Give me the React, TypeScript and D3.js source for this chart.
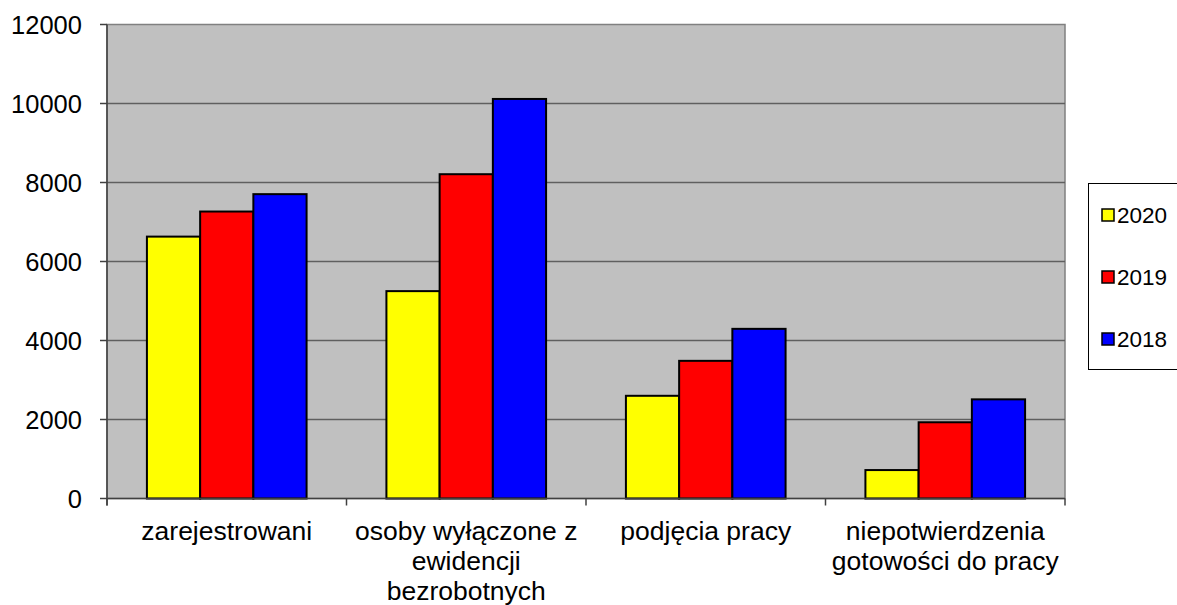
import React from "react";
import * as d3 from "d3";

const categories = ["zarejestrowani", "osoby wyłączone z ewidencji bezrobotnych", "podjęcia pracy", "niepotwierdzenia gotowości do pracy"];
const categoryLines = [["zarejestrowani"], ["osoby wyłączone z", "ewidencji", "bezrobotnych"], ["podjęcia pracy"], ["niepotwierdzenia", "gotowości do pracy"]];
const seriesNames = ["2020", "2019", "2018"];
const seriesColors = ["#FFFF00", "#FF0000", "#0000FF"];
const values2020 = [6630, 5250, 2600, 720];
const values2019 = [7265, 8210, 3485, 1930];
const values2018 = [7705, 10115, 4295, 2510];
const yTicks = [0, 2000, 4000, 6000, 8000, 10000, 12000];

const seriesValues = [values2020, values2019, values2018];

export default function App() {
  const W = 1177, H = 605;
  const left = 107, right = 1065, top = 24.5, bottom = 498.5;
  const y = d3.scaleLinear().domain([0, 12000]).range([bottom, top]);
  const x0 = d3.scaleBand<string>().domain(categories).range([left, right]).paddingInner(0).paddingOuter(0);
  const x1 = d3.scaleBand<string>().domain(seriesNames).range([0, x0.bandwidth()]).paddingInner(0).paddingOuter(0.75);
  const font = "Arial, 'Liberation Sans', sans-serif";
  const catTicks = [...categories.map((c) => x0(c) as number), right];

  return (
    <svg width={W} height={H} style={{ position: "absolute", left: 0, top: 0, display: "block", background: "#fff" }} fontFamily={font}>
      <rect x={left} y={top} width={right - left} height={bottom - top} fill="#C0C0C0" stroke="#808080" strokeWidth={1.5} />
      {yTicks.filter((t) => t > 0 && t < 12000).map((t) => (
        <line key={"g" + t} x1={left} x2={right} y1={y(t)} y2={y(t)} stroke="#5F5F5F" strokeWidth={1.5} />
      ))}
      {yTicks.map((t) => (
        <g key={"t" + t}>
          <line x1={left - 7} x2={left} y1={y(t)} y2={y(t)} stroke="#404040" strokeWidth={1.5} />
          <text x={82} y={y(t)} textAnchor="end" dominantBaseline="central" fontSize={25.5} fill="#000">{t}</text>
        </g>
      ))}
      {categories.map((c, ci) => (
        <g key={c}>
          {seriesNames.map((s, si) => {
            const v = seriesValues[si][ci];
            const bx = (x0(c) as number) + (x1(s) as number);
            return (
              <rect key={s} x={bx} y={y(v)} width={x1.bandwidth()} height={y(0) - y(v)} fill={seriesColors[si]} stroke="#000" strokeWidth={2} />
            );
          })}
          {categoryLines[ci].map((ln, li) => (
            <text key={li} x={(x0(c) as number) + x0.bandwidth() / 2} y={531 + li * 30} textAnchor="middle" dominantBaseline="central" fontSize={26.5} fill="#000">{ln}</text>
          ))}
        </g>
      ))}
      <line x1={left} x2={left} y1={top} y2={bottom + 7} stroke="#404040" strokeWidth={1.5} />
      <line x1={left} x2={right} y1={bottom} y2={bottom} stroke="#404040" strokeWidth={1.5} />
      {catTicks.map((tx, i) => (
        <line key={"ct" + i} x1={tx} x2={tx} y1={bottom} y2={bottom + 7} stroke="#404040" strokeWidth={1.5} />
      ))}
      <rect x={1088.5} y={183.5} width={100} height={186} fill="#fff" stroke="#000" strokeWidth={1} />
      {seriesNames.map((s, si) => {
        const cy = 215 + si * 62;
        return (
          <g key={"l" + s}>
            <rect x={1102} y={cy - 6} width={12} height={12} fill={seriesColors[si]} stroke="#000" strokeWidth={1.5} />
            <text x={1117} y={cy} dominantBaseline="central" fontSize={22.5} fill="#000">{s}</text>
          </g>
        );
      })}
    </svg>
  );
}
